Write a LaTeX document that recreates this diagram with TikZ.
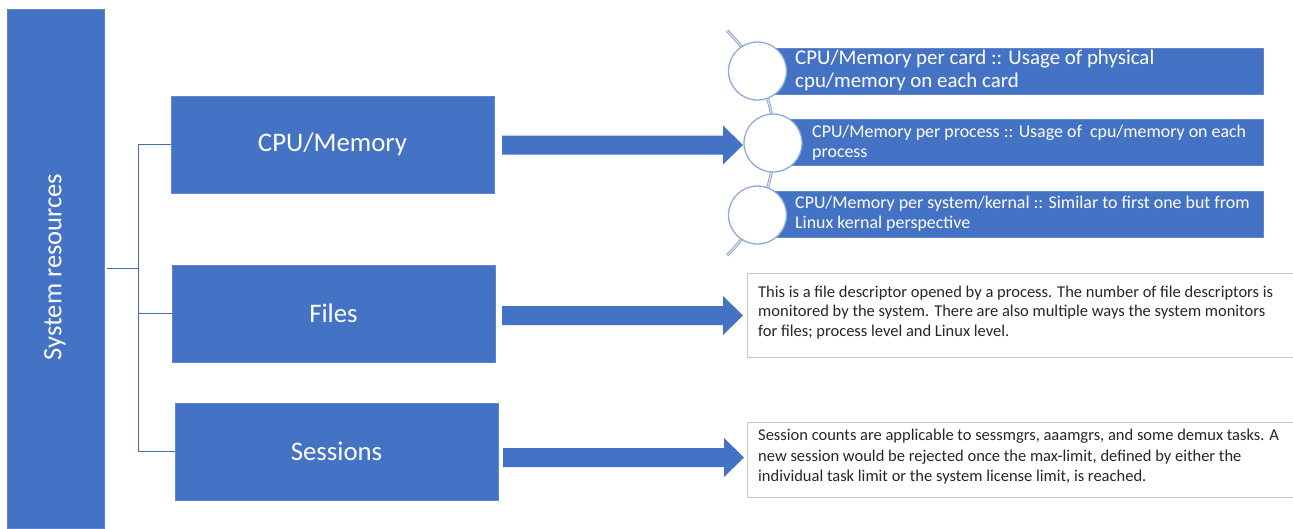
\documentclass[tikz,border=0pt]{standalone}
\usepackage{fontspec}
\setmainfont{Carlito}
\definecolor{obl}{HTML}{4472C4}
\definecolor{lnk}{HTML}{4A6BAA}
\definecolor{cir}{HTML}{8FAADC}
\definecolor{tbord}{HTML}{C8C8C8}
\definecolor{tdark}{HTML}{262626}
\begin{document}
\begin{tikzpicture}[x=1pt,y=-1pt,
  bluebox/.style={fill=obl, draw=obl!85!white, line width=0.6pt, text=white, inner sep=0pt},
  conn/.style={draw=lnk, line width=1pt},
  listbar/.style={fill=obl, draw=obl!85!white, line width=0.6pt, inner sep=0pt, anchor=west, minimum height=46pt},
  circ/.style={circle, fill=white, draw=cir, line width=1.3pt, minimum size=58pt, inner sep=0pt},
  bartext/.style={anchor=west, align=left, text=white, inner sep=0pt},
  tbox/.style={fill=white, draw=tbord, line width=1pt, anchor=north west, inner sep=0pt},
  boxtext/.style={anchor=west, align=left, text=tdark, inner sep=0pt},
  curve/.style={draw=cir!60!gray, double=cir!35!white, double distance=1.3pt, line width=0.8pt},
  blockarrow/.pic={\fill[obl] (0,-9.5) -- (221,-9.5) -- (221,-19.5) -- (241,0) -- (221,19.5) -- (221,9.5) -- (0,9.5) -- cycle;}
]
\useasboundingbox (0,0) rectangle (1293,528);
\fill[white] (0,0) rectangle (1293,528);

% left bar
\node[bluebox, minimum width=97pt, minimum height=519pt] (bar) at (55.5,268.5) {};
\node[rotate=90, text=white, font=\fontsize{26.5}{31}\selectfont] (barlabel) at (55,267) {System resources};

% category boxes
\node[bluebox, minimum width=323pt, minimum height=97pt, font=\fontsize{26.8}{31}\selectfont] (cpu) at (332.5,144.5) {CPU/Memory};
\node[bluebox, minimum width=323pt, minimum height=97pt, font=\fontsize{26.8}{31}\selectfont] (files) at (333.5,313.5) {Files};
\node[bluebox, minimum width=323pt, minimum height=97pt, font=\fontsize{26.8}{31}\selectfont] (sessions) at (336.5,451.5) {Sessions};

% tree connector
\coordinate (j) at (138.5,268.5);
\draw[conn] ([xshift=3pt]bar.east) -- (j);
\draw[conn] (cpu.west) -| (j) |- (sessions.west);
\draw[conn] (j |- files.west) -- (files.west);

% block arrows
\pic at (502,145) {blockarrow};
\pic at (502,315.5) {blockarrow};
\pic at (503,457.5) {blockarrow};

% curved list
\draw[curve] (727.2,30.7) arc[start angle=-45.3, end angle=45.3, radius=158];
\node[listbar, minimum width=506pt] (r1) at (757,71) {};
\node[listbar, minimum width=490pt] (r2) at (773,142.5) {};
\node[listbar, minimum width=506pt] (r3) at (757,214.5) {};
\node[circ] (c1) at (757.5,71) {};
\node[circ] (c2) at (773,143) {};
\node[circ] (c3) at (757.5,215) {};
\node[bartext, font=\fontsize{20.9}{22.5}\selectfont] (t1) at (795,70.5) {CPU/Memory per card :: Usage of physical\\cpu/memory on each card};
\node[bartext, font=\fontsize{17.9}{20.5}\selectfont] (t2) at (812,142.5) {CPU/Memory per process :: Usage of~ cpu/memory on each\\process};
\node[bartext, font=\fontsize{17.9}{20}\selectfont] (t3) at (795,214) {CPU/Memory per system/kernal :: Similar to first one but from\\Linux kernal perspective};

% text boxes
\node[tbox, minimum width=552pt, minimum height=84pt] (fbox) at (747,273) {};
\node[boxtext, font=\fontsize{16.5}{19.5}\selectfont] (ftext) at (758,312.5) {This is a file descriptor opened by a process. The number of file descriptors is\\monitored by the system. There are also multiple ways the system monitors\\for files; process level and Linux level.};
\node[tbox, minimum width=552pt, minimum height=75pt] (sbox) at (747,422) {};
\node[boxtext, font=\fontsize{16.5}{20.5}\selectfont] (stext) at (758,457) {Session counts are applicable to sessmgrs, aaamgrs, and some demux tasks. A\\new session would be rejected once the max-limit, defined by either the\\individual task limit or the system license limit, is reached.};
\end{tikzpicture}
\end{document}
